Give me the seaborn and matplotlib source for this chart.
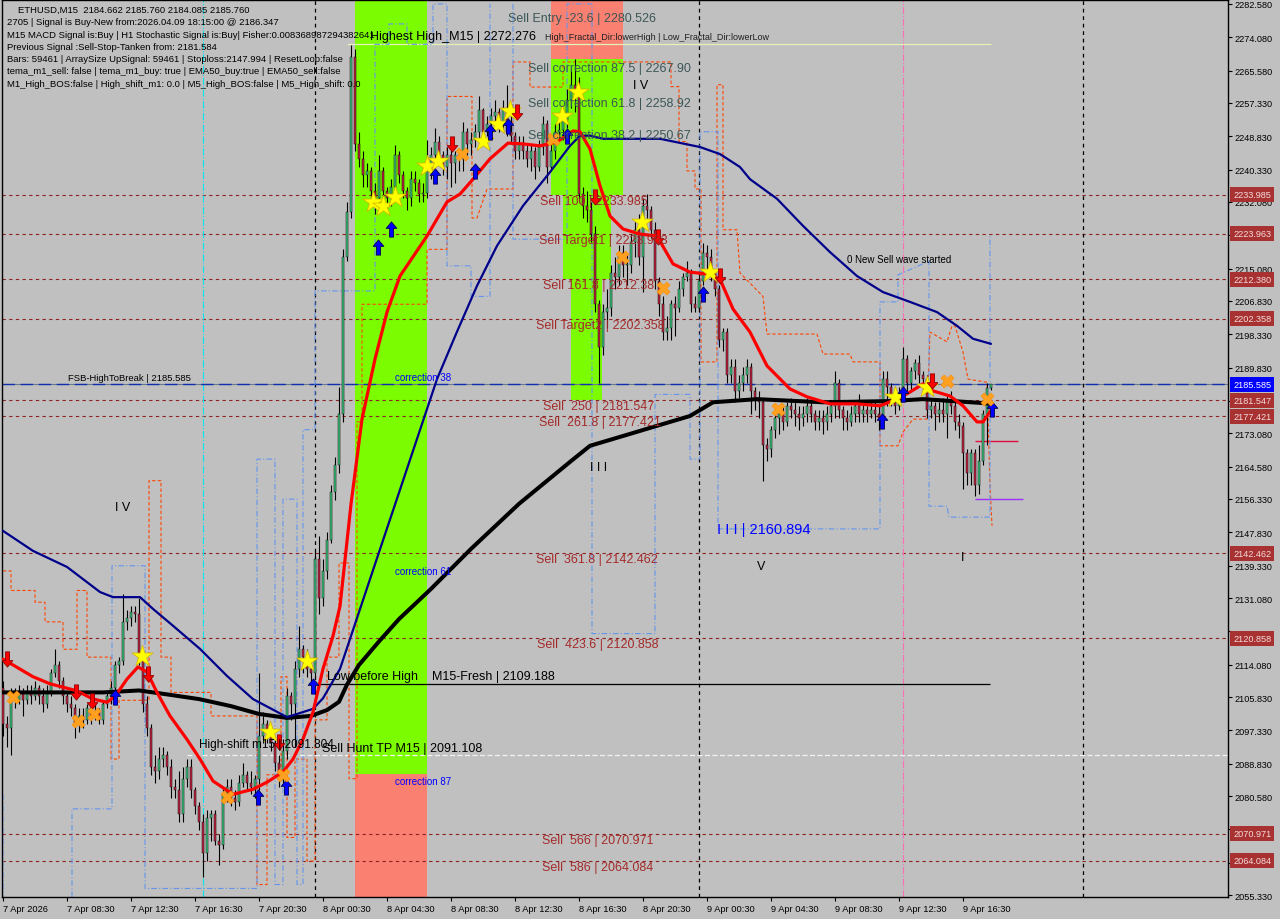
import numpy as np
import pandas as pd
import matplotlib
matplotlib.use("Agg")
import matplotlib.pyplot as plt
import matplotlib.transforms as mtransforms
from matplotlib.path import Path
import seaborn as sns

# ------------------------------------------------------------------ data
time_labels = ["7 Apr 2026", "7 Apr 08:30", "7 Apr 12:30", "7 Apr 16:30", "7 Apr 20:30",
               "8 Apr 00:30", "8 Apr 04:30", "8 Apr 08:30", "8 Apr 12:30", "8 Apr 16:30",
               "8 Apr 20:30", "9 Apr 00:30", "9 Apr 04:30", "9 Apr 08:30", "9 Apr 12:30",
               "9 Apr 16:30"]
time_label_bars = [0, 16, 32, 48, 64, 80, 96, 112, 128, 144, 160, 176, 192, 208, 224, 240]
day_separators = [78, 174, 270]

first_open = 2108.0
closes = [
    2099, 2098, 2106, 2105, 2107, 2105, 2107, 2106, 2108, 2106, 2104, 2107,
    2112, 2114, 2110, 2106, 2104, 2103, 2099, 2101, 2100, 2103, 2101, 2102,
    2100, 2104, 2106, 2108, 2114, 2115, 2125, 2126, 2127.5, 2127, 2116, 2104,
    2098, 2088, 2087, 2090, 2091, 2088, 2083, 2082, 2076, 2085, 2088, 2082,
    2078, 2074, 2066, 2075, 2076, 2069, 2068, 2081, 2083, 2080, 2079, 2084,
    2086, 2084, 2083, 2085, 2096, 2099, 2097, 2094, 2089, 2086, 2092, 2106,
    2104, 2113, 2118, 2116, 2113, 2112, 2141, 2131, 2138, 2146, 2158, 2165,
    2178, 2218, 2229.5, 2269, 2247, 2243, 2239, 2240, 2235, 2233, 2240, 2235,
    2233, 2236, 2244, 2239, 2235, 2233, 2238, 2237, 2234, 2234.5, 2240, 2244,
    2247.5, 2244, 2241, 2244, 2242, 2244, 2243, 2250, 2247, 2248, 2250, 2255.5,
    2250, 2252, 2254, 2255, 2252, 2256, 2250, 2249, 2245, 2247, 2245, 2243,
    2245, 2241, 2246, 2252, 2241, 2245, 2250, 2250.5, 2253, 2258, 2262, 2260,
    2234, 2231, 2230, 2224, 2206, 2195, 2204, 2205, 2214, 2213, 2219, 2216,
    2216, 2222, 2225, 2218, 2231, 2230, 2225, 2212, 2206, 2199, 2200, 2206,
    2205, 2210, 2213, 2214, 2206, 2205, 2212, 2219, 2218, 2214, 2210, 2197,
    2199, 2188, 2190, 2184, 2186, 2188, 2190, 2184, 2182, 2181, 2170, 2169,
    2174, 2177, 2178, 2176, 2180, 2179, 2178, 2177, 2178, 2180, 2178, 2176,
    2177, 2176, 2178, 2180, 2186, 2179, 2177, 2176, 2178, 2180, 2178, 2179,
    2178, 2179, 2178, 2177, 2187, 2185, 2182, 2180, 2183, 2192, 2186, 2189,
    2191, 2188, 2187, 2179, 2180, 2178, 2179, 2178, 2181, 2180, 2176, 2175,
    2168, 2163, 2168, 2160, 2166, 2178, 2184.662, 2185.76]
highs = [
    2110, 2101, 2108, 2108, 2109, 2108, 2109, 2109, 2110, 2109, 2108, 2109,
    2113, 2118, 2115, 2111, 2107, 2106, 2104, 2103, 2103, 2104, 2105, 2104,
    2103, 2105, 2107, 2110, 2115, 2116, 2132, 2128, 2129, 2129, 2131, 2117,
    2106, 2099, 2091, 2093, 2093, 2092, 2090, 2085, 2087, 2088, 2090, 2090,
    2083, 2079, 2076, 2077, 2077, 2077, 2071, 2083, 2085, 2085, 2082, 2086,
    2089, 2087, 2087, 2086, 2112, 2102, 2100, 2098, 2095, 2091, 2095, 2108,
    2107, 2115, 2124, 2119, 2118, 2115, 2143, 2147, 2141, 2148, 2160, 2167,
    2185, 2220, 2232, 2272, 2271, 2250, 2245, 2242, 2241, 2237, 2244, 2241,
    2236, 2238, 2246.6, 2245, 2240, 2236, 2240, 2240, 2238, 2237, 2248, 2246,
    2251, 2249, 2245, 2246, 2246, 2245, 2245, 2252.5, 2251, 2250, 2252, 2259,
    2256, 2254, 2256, 2258, 2256, 2258, 2262, 2254, 2250, 2249, 2249, 2247,
    2247, 2246, 2248, 2254, 2253, 2247, 2252, 2253, 2256, 2261, 2266, 2268.6,
    2264, 2236, 2235, 2232, 2226, 2207, 2206, 2210, 2216, 2218, 2221, 2221,
    2219, 2224, 2227, 2229, 2233, 2234, 2231, 2227, 2213, 2208, 2203, 2207,
    2208, 2212, 2214, 2217, 2215, 2208, 2214, 2221.5, 2221, 2220, 2215, 2211,
    2200, 2200, 2192, 2192, 2188, 2190, 2192, 2191, 2185, 2184, 2182, 2172,
    2175, 2179, 2180, 2180, 2181, 2182, 2181, 2180, 2180, 2182, 2181, 2179,
    2179, 2179, 2180, 2181, 2189, 2187, 2180, 2179, 2180, 2181, 2183, 2181,
    2180, 2181, 2181, 2180, 2189, 2189, 2186, 2183, 2185, 2195, 2193, 2190,
    2192, 2193, 2189, 2188, 2182, 2181, 2181, 2182, 2183, 2184, 2182, 2178,
    2176, 2169, 2169, 2169, 2170, 2179, 2186, 2185.76]
lows = [
    2096, 2093, 2091, 2103, 2104, 2101, 2104, 2104, 2105, 2104, 2102, 2103,
    2106, 2111, 2108, 2104, 2102, 2101, 2095.5, 2097, 2098, 2099, 2099, 2100,
    2099, 2099, 2103, 2104, 2106, 2112, 2114, 2123, 2124, 2125, 2114, 2102,
    2096, 2086, 2084, 2085, 2088, 2086, 2080, 2080, 2074, 2074, 2083, 2080,
    2076, 2072, 2060, 2064, 2069, 2068, 2063, 2067, 2079, 2078, 2077, 2078,
    2083, 2082, 2081, 2080, 2082, 2094, 2094, 2092, 2087, 2083, 2084, 2090,
    2100, 2093, 2111, 2112, 2111, 2110, 2111, 2127, 2129, 2136, 2145, 2156,
    2163, 2176, 2217, 2228, 2245, 2241, 2236, 2236, 2231, 2229, 2232, 2233,
    2230, 2231, 2235, 2237, 2233, 2230, 2231, 2235, 2232, 2232, 2233, 2238,
    2243, 2242, 2239, 2238, 2236, 2237, 2240, 2240, 2244, 2244, 2246, 2248,
    2248, 2249, 2250, 2252, 2250, 2250, 2249, 2247, 2243, 2243, 2243, 2241,
    2240, 2238, 2240, 2244, 2237, 2240, 2243, 2248, 2248, 2251, 2256, 2255,
    2232, 2228, 2227, 2222, 2204, 2186, 2193, 2200, 2203, 2210, 2211, 2213,
    2211, 2214, 2218, 2216, 2209, 2228, 2223, 2210, 2203, 2197, 2197, 2197,
    2198, 2204, 2208, 2212, 2204, 2204, 2204, 2211, 2214, 2212, 2208, 2195,
    2194, 2186, 2186, 2181, 2182, 2184, 2186, 2178, 2179, 2177, 2161, 2166,
    2167, 2172, 2173, 2174, 2175, 2177, 2175, 2174, 2175, 2176, 2176, 2174,
    2174, 2173, 2174, 2176, 2177, 2177, 2174, 2174, 2175, 2176, 2176, 2176,
    2176, 2177, 2176, 2174, 2176, 2180, 2180, 2178, 2179, 2182, 2184, 2184,
    2187, 2186, 2184, 2177, 2177, 2174, 2176, 2176, 2172, 2178, 2174, 2172,
    2159, 2160, 2160, 2157, 2157.5, 2165, 2170, 2184.085]

# moving averages (bar, price)
ema_fast = [(0, 2115.5), (7.5, 2111), (11.75, 2109.2), (18.5, 2107.4), (22.5, 2105.3), (26, 2104.5),
            (28, 2106), (31, 2110.4), (33.75, 2113.5), (36, 2112.2), (38.5, 2107), (41.75, 2101),
            (46, 2095), (49.25, 2090), (52.5, 2084.4), (57.5, 2081), (62.5, 2082.3), (66, 2084.1),
            (70, 2086.7), (72.5, 2090), (75, 2095.1), (77.5, 2102), (80, 2113), (82.5, 2121.4),
            (84.25, 2129), (87, 2155), (89.75, 2176.7), (93, 2192), (96, 2204), (99.25, 2213.2),
            (106, 2223.4), (111, 2232.1), (114.25, 2234.1), (117.5, 2237.9), (121.75, 2243.1),
            (126.25, 2247.1), (130, 2246.9), (134.25, 2246.4), (138.5, 2247.4), (142.5, 2250.2),
            (144.25, 2250), (146.75, 2245.6), (149.25, 2236.2), (151.75, 2228.5), (155, 2225.2),
            (159.25, 2223.9), (163.5, 2223.4), (167.5, 2216.3), (171.75, 2214.2), (176, 2213.7),
            (179.25, 2212.4), (182.5, 2204.8), (186.75, 2198.9), (191, 2190.3), (196.75, 2184.4),
            (201, 2182.4), (206.75, 2180.6), (213.5, 2180.6), (219.25, 2180.1), (223.5, 2181.8),
            (226.75, 2183.6), (230, 2185.7), (232.5, 2183.9), (236.75, 2182.6), (240, 2180.1),
            (243.5, 2176), (245, 2176), (247.25, 2179.3)]
ema_mid = [(0, 2148.2), (7.5, 2143.1), (16, 2139), (24.25, 2132.6), (27.5, 2131.3), (34.25, 2131.3),
           (37.5, 2128.3), (42.5, 2124), (49.25, 2118.1), (56, 2111.2), (62.5, 2105.3), (71, 2100.7),
           (77.5, 2102.8), (80, 2105.5), (84.25, 2113), (94.25, 2143.5), (99.25, 2158.7),
           (108.5, 2186.9), (113.5, 2199), (118.5, 2210.7), (123.5, 2220.9), (130, 2231.1),
           (136.75, 2239.7), (141.75, 2246.4), (144.25, 2249), (146.75, 2249), (150, 2248.2),
           (154.25, 2248.2), (164.25, 2248.2), (174.25, 2246.1), (179.25, 2244.3), (184.25, 2241),
           (186.75, 2237.9), (193.5, 2232.9), (200, 2226), (206.75, 2219.3), (213.5, 2213.2),
           (220, 2209.1), (226.75, 2206.6), (233.5, 2204), (238.5, 2200.5), (242.5, 2197.2),
           (247, 2195.9)]
ema_slow = [(0, 2107), (25, 2107), (34, 2107.5), (41, 2106.5), (49, 2105.3), (57, 2103.5),
            (64, 2101.5), (71, 2100.5), (77, 2101), (81, 2102.5), (84, 2104.6), (86, 2109),
            (89, 2114), (94, 2120), (99, 2125.7), (107, 2133.4), (117, 2143.6), (129, 2155.1),
            (142, 2166), (146.75, 2169.9), (155, 2172.4), (163.5, 2175), (171.75, 2177.5),
            (177.5, 2181), (188.5, 2181.8), (205, 2181), (221.75, 2181.3), (230, 2181.8),
            (245, 2180.8), (247, 2180.6)]

# channel step lines (bar, price); None breaks a line
orange_env = [(0, 2138), (2, 2138), (2, 2133), (8, 2133), (8, 2130), (10.5, 2130), (10.5, 2125),
              (15, 2125), (15, 2118), (18.5, 2118), (18.5, 2133), (21, 2133), (21, 2116), (27, 2116),
              (27, 2090), (29, 2090), (29, 2105), (36.5, 2105), (36.5, 2161), (39.5, 2161),
              (39.5, 2116), (42, 2116), (42, 2107), (52, 2107), (52, 2101), (63.5, 2101),
              (63.5, 2058), (66, 2058), (66, 2086), (69.5, 2086), (69.5, 2111), (71, 2111),
              (71, 2070), (73, 2070), (73, 2090), (76, 2090), (76, 2064), (78, 2064), (78, 2100),
              (81, 2100), (81, 2116), (84, 2116), (84, 2140), (86.5, 2140), (86.5, 2085),
              (88.5, 2085), (88.5, 2176), (89.75, 2176), (89.75, 2206), (106, 2206), (106, 2220),
              (111, 2220), (111, 2259), (117.25, 2259), (117.25, 2228), (118.5, 2228),
              (121, 2235.4), (127.5, 2235.4), (127.5, 2267.8), (131.75, 2267.8), (131.75, 2261.4),
              (140, 2261.4), (140, 2267.8), (167, 2267.8), (167, 2261.5), (169, 2261.5),
              (169, 2247.5), (171, 2247.5), (171, 2240), (173, 2240), (173, 2235.4),
              (174.5, 2235.4), (174.5, 2191.3), (178.5, 2191.3), (178.5, 2262), (180, 2262),
              (180, 2225), (183.5, 2225), (184.25, 2214), (190, 2208), (191, 2198.4),
              (203.5, 2198.4), (205, 2193.3), (211.75, 2193.3), (212.5, 2191.3), (219.25, 2191.3),
              (219.25, 2169.9), (223.75, 2169.9), (225, 2173.4), (227.5, 2176.7), (231, 2176.7),
              (231.75, 2198.9), (236, 2196.4), (237.25, 2200.5), (238, 2200.5), (240, 2193.8),
              (241.25, 2186.9), (246, 2186.1), (246.75, 2159.7), (247.25, 2149.5)]
blue_env = [(0, 2081), (0, 2054.8), None,
            (17.25, 2054.8), (17.25, 2077.3), (27.25, 2077.3), (27.25, 2139.3), (35.5, 2139.3),
            (35.5, 2057), (63.5, 2057), (63.5, 2166.5), (68, 2166.5), (68, 2058), (70, 2058),
            (70, 2156.3), (73.5, 2156.3), (73.5, 2058), (75, 2058), (75, 2174), (78, 2174),
            (78, 2209.4), (93, 2209.4), (93, 2272.3), (96.5, 2272.3), (96.5, 2277.5),
            (101, 2277.5), (101, 2272.3), (107.5, 2272.3), (107.5, 2282.6), (111, 2282.6),
            (111, 2215.8), (117, 2215.8), (117, 2208), (121.75, 2208), (121.75, 2282.6), None,
            (127.5, 2282.6), (127.5, 2222.6), (141, 2222.6), (141, 2282.6), (147.25, 2282.6),
            (147.25, 2122), (163, 2122), (163, 2183), (171.75, 2183), (171.75, 2166.5),
            (174.25, 2166.5), (174.25, 2250), (178.75, 2250), (178.75, 2148.7), (219.25, 2148.7),
            (219.25, 2206.6), (223.75, 2206.6), (223.75, 2213.5), (231.5, 2217), (231.5, 2154.5),
            (236, 2154.5), (236.5, 2151.7), (246.75, 2151.7), (246.75, 2223.5)]

# signal markers (bar, price)
stars = [(34.75, 2116.3), (66.75, 2096.9), (76, 2115.0), (92.5, 2232.1), (95, 2231.1), (98, 2233.4),
         (106, 2241.3), (108.75, 2242.5), (120, 2247.6), (123.75, 2252), (126.75, 2255.3),
         (139.75, 2254), (143.75, 2260.1), (159.75, 2227), (176.75, 2214.2), (223, 2182.4),
         (231, 2184.9)]
buy_arrows = [(28, 2105.8), (63.75, 2080.3), (70.75, 2082.9), (77.5, 2108.6), (93.75, 2220.6),
              (97, 2225.2), (108, 2238.7), (118, 2240), (121.75, 2250), (126.25, 2251.5),
              (141, 2249), (175, 2208.6), (219.75, 2176.2), (225, 2183.1), (247.25, 2179.3)]
sell_arrows = [(1, 2115.5), (18.25, 2107.1), (22.25, 2104.8), (36.25, 2111.7), (69, 2094.4),
               (112.25, 2246.9), (128.5, 2255.1), (148, 2233.4), (163.75, 2223.2), (179.25, 2213.2),
               (232.25, 2186.4)]
crosses = [(2.5, 2105.8), (18.75, 2099.7), (22.75, 2101.5), (56, 2080.3), (70, 2085.9),
           (114.75, 2244.3), (137.5, 2248.2), (154.75, 2218.1), (165, 2210.2), (193.75, 2179.3),
           (236, 2186.4), (246, 2181.8)]

# Fibonacci sell levels
sell_levels = [2233.985, 2223.963, 2212.380, 2202.358, 2181.547, 2177.421,
               2142.462, 2120.858, 2070.971, 2064.084]
sell_level_text = [("Sell Entry -23.6 | 2280.526", 126.25, 2280.526, "slate"),
                   ("Sell correction 87.5 | 2267.90", 131.25, 2267.90, "slate"),
                   ("Sell correction 61.8 | 2258.92", 131.25, 2258.92, "slate"),
                   ("Sell correction 38.2 | 2250.67", 131.25, 2250.67, "slate"),
                   ("Sell 100 | 2233.985", 134.25, 2233.985, "brown"),
                   ("Sell Target1 | 2223.963", 134.0, 2223.963, "brown"),
                   ("Sell 161.8 | 2212.38", 135.0, 2212.380, "brown"),
                   ("Sell Target2 | 2202.358", 133.25, 2202.358, "brown"),
                   ("Sell  250 | 2181.547", 135.0, 2181.547, "brown"),
                   ("Sell  261.8 | 2177.421", 134.0, 2177.421, "brown"),
                   ("Sell  361.8 | 2142.462", 133.25, 2142.462, "brown"),
                   ("Sell  423.6 | 2120.858", 133.5, 2120.858, "brown"),
                   ("Sell  566 | 2070.971", 134.75, 2070.971, "brown"),
                   ("Sell  586 | 2064.084", 134.75, 2064.084, "brown")]
fsb_level = 2185.585
low_before_high = 2109.188
hunt_tp = 2091.108
high_shift = 2091.804
highest_high = 2272.276
box_red_levels = [2233.985, 2223.963, 2212.380, 2202.358, 2181.547, 2177.421,
                  2142.462, 2120.858, 2070.971, 2064.084]
price_ticks = [2282.58, 2274.08, 2265.58, 2257.33, 2248.83, 2240.33, 2232.08, 2223.58, 2215.08,
               2206.83, 2198.33, 2189.83, 2181.33, 2173.08, 2164.58, 2156.33, 2147.83, 2139.33,
               2131.08, 2122.58, 2114.08, 2105.83, 2097.33, 2088.83, 2080.58, 2072.08, 2063.58,
               2055.33]
info_lines = ["ETHUSD,M15  2184.662 2185.760 2184.085 2185.760",
              "2705 | Signal is Buy-New from:2026.04.09 18:15:00 @ 2186.347",
              "M15 MACD Signal is:Buy | H1 Stochastic Signal is:Buy| Fisher:0.008368987294382641",
              "Previous Signal :Sell-Stop-Tanken from: 2181.584",
              "Bars: 59461 | ArraySize UpSignal: 59461 | Stoploss:2147.994 | ResetLoop:false",
              "tema_m1_sell: false | tema_m1_buy: true | EMA50_buy:true | EMA50_sell:false",
              "M1_High_BOS:false | High_shift_m1: 0.0 | M5_High_BOS:false | M5_High_shift: 0.0"]

# ------------------------------------------------------------------ style
BG = "#C0C0C0"
sns.set_theme(style="white", rc={"axes.facecolor": BG, "figure.facecolor": BG,
                                 "axes.edgecolor": "black"})
plt.rcParams["font.family"] = ["Liberation Sans", "DejaVu Sans"]

fig = plt.figure(figsize=(12.8, 9.2), dpi=100)
ax = fig.add_axes([2 / 1280, 22 / 920, 1226 / 1280, 897 / 920])
ax.set_facecolor(BG)
ax.set_xlim(-0.25, 306.25)
ax.set_ylim(2054.82, 2283.6)

YTOP = 2283.6
YBOT = 2054.82

# coloured zones
ax.fill_between([88, 106], 2086.2, YTOP, color="#7CFC00", lw=0, zorder=0.5)
ax.fill_between([88, 106], YBOT, 2086.2, color="#FA8072", lw=0, zorder=0.5)
ax.fill_between([137, 155], 2268.6, YTOP, color="#FA8072", lw=0, zorder=0.5)
ax.fill_between([137, 155], 2233.985, 2268.6, color="#7CFC00", lw=0, zorder=0.5)
ax.fill_between([140, 152], 2212.38, 2233.985, color="#7CFC00", lw=0, zorder=0.5)
ax.fill_between([142, 149.75], 2181.547, 2212.38, color="#7CFC00", lw=0, zorder=0.5)

# horizontal levels
for lv in sell_levels:
    ax.axhline(lv, color="#8B2323", lw=0.8, ls=(0, (3, 3)), zorder=1)
ax.axhline(fsb_level, color="#6A7A8A", lw=0.8, zorder=1)
ax.axhline(fsb_level, color="#1030B0", lw=1.0, ls=(0, (9, 4)), zorder=1.1)
ax.hlines(low_before_high, 79.25, 246.75, color="black", lw=0.9, zorder=1.2)
ax.hlines(hunt_tp, 46, 306.25, color="#F4F4F4", lw=0.9, ls=(0, (4, 2)), zorder=1.2)
ax.hlines(highest_high, 86, 247, color="#E2F2B8", lw=0.9, zorder=1.2)
ax.hlines(2171.1, 243, 253.75, color="#E0103C", lw=1.0, zorder=1.2)
ax.hlines(2156.3, 243, 255, color="#9B30FF", lw=1.0, zorder=1.2)

# vertical lines
for b in day_separators:
    ax.axvline(b, color="black", lw=0.9, ls=(0, (3, 3)), zorder=1)
ax.axvline(50, color="#00E5EE", lw=0.8, ls="-.", zorder=1)
ax.axvline(225, color="#FF6EB4", lw=0.8, ls="-.", zorder=1)


def split_path(pts):
    xs, ys = [], []
    for p in pts:
        if p is None:
            xs.append(np.nan); ys.append(np.nan)
        else:
            xs.append(p[0]); ys.append(p[1])
    return xs, ys


ox, oy = split_path(orange_env)
ax.plot(ox, oy, color="#FF4500", lw=0.8, ls=(0, (3, 2)), zorder=2)
bx, by = split_path(blue_env)
ax.plot(bx, by, color="#6495ED", lw=0.8, ls=(0, (5, 2, 1, 2)), zorder=2)

# candles
idx = np.arange(len(closes))
c = np.array(closes, dtype=float)
o = np.concatenate([[first_open], c[:-1]])
h = np.maximum.reduce([np.array(highs, dtype=float), o, c])
l = np.minimum.reduce([np.array(lows, dtype=float), o, c])
up = c >= o
ax.vlines(idx, l, h, color="black", lw=0.8, zorder=3)
body = np.where(np.abs(c - o) < 0.35, 0.35, c - o)
ax.bar(idx, body, bottom=o, width=0.74, color=np.where(up, "#3CC47C", "#C0203E"),
       edgecolor="#101010", linewidth=0.35, zorder=3.1)

# moving averages
for pts, col, lw in [(ema_slow, "black", 2.9), (ema_mid, "#00008B", 1.6), (ema_fast, "#FF0000", 2.3)]:
    df = pd.DataFrame(pts, columns=["bar", "price"])
    sns.lineplot(data=df, x="bar", y="price", ax=ax, color=col, lw=lw, sort=False,
                 estimator=None, legend=False, zorder=5)

# markers
up_arrow = Path([(0, 1), (-0.7, 0.15), (-0.27, 0.15), (-0.27, -1), (0.27, -1), (0.27, 0.15),
                 (0.7, 0.15), (0, 1)],
                [Path.MOVETO] + [Path.LINETO] * 6 + [Path.CLOSEPOLY])
dn_arrow = Path([(0, -1), (-0.7, -0.15), (-0.27, -0.15), (-0.27, 1), (0.27, 1), (0.27, -0.15),
                 (0.7, -0.15), (0, -1)],
                [Path.MOVETO] + [Path.LINETO] * 6 + [Path.CLOSEPOLY])
sdf = pd.DataFrame(stars, columns=["bar", "price"])
sns.scatterplot(data=sdf, x="bar", y="price", ax=ax, marker="*", s=260, color="#FFFF00",
                edgecolor="#D4B000", linewidth=0.5, zorder=6, legend=False)
adf = pd.DataFrame(buy_arrows, columns=["bar", "price"])
sns.scatterplot(data=adf, x="bar", y="price", ax=ax, marker=up_arrow, s=120, color="#0000FF",
                edgecolor="#000050", linewidth=0.6, zorder=6, legend=False)
ddf = pd.DataFrame(sell_arrows, columns=["bar", "price"])
sns.scatterplot(data=ddf, x="bar", y="price", ax=ax, marker=dn_arrow, s=120, color="#FF0000",
                edgecolor="#900000", linewidth=0.6, zorder=6, legend=False)
xdf = pd.DataFrame(crosses, columns=["bar", "price"])
sns.scatterplot(data=xdf, x="bar", y="price", ax=ax, marker="X", s=90, color="#FFA020",
                edgecolor="#FF8C00", linewidth=0.4, zorder=6, legend=False)

# texts
COLS = {"slate": "#3C5656", "brown": "#A52A2A"}
for txt, b, lv, col in sell_level_text:
    ax.text(b, lv, txt, color=COLS[col], fontsize=9, va="top", ha="left", zorder=7)

ax.text(16.25, fsb_level + 0.6, "FSB-HighToBreak | 2185.585", fontsize=6.8, color="black",
        va="bottom", zorder=7)
ax.text(98, fsb_level + 0.6, "correction 38", fontsize=7, color="#0000FF", va="bottom", zorder=7)
ax.text(98, 2138.0, "correction 61", fontsize=7, color="#0000FF", va="center", zorder=7)
ax.text(98, 2084.4, "correction 87", fontsize=7, color="#0000FF", va="center", zorder=7)
ax.text(81, low_before_high + 0.5, "Low before High    M15-Fresh | 2109.188", fontsize=9,
        color="black", va="bottom", zorder=7)
ax.text(49, high_shift + 0.6, "High-shift m15 | 2091.804", fontsize=8.5, color="black",
        va="bottom", zorder=7)
ax.text(79.75, hunt_tp + 0.2, "Sell Hunt TP M15 | 2091.108", fontsize=9, color="black",
        va="bottom", zorder=7)
ax.text(91.75, highest_high + 0.6, "Highest High_M15 | 2272.276", fontsize=9, color="black",
        va="bottom", zorder=7)
ax.text(135.5, highest_high + 0.8, "High_Fractal_Dir:lowerHigh | Low_Fractal_Dir:lowerLow",
        fontsize=6.5, color="#202020", va="bottom", zorder=7)
ax.text(211, 2217.6, "0 New Sell wave started", fontsize=7, color="black", va="center", zorder=7)
ax.text(28, 2154.3, "I V", fontsize=9, color="black", va="center", zorder=7)
ax.text(157.5, 2261.8, "I V", fontsize=9, color="black", va="center", zorder=7)
ax.text(146.75, 2164.5, "I I I", fontsize=9, color="black", va="center", zorder=7)
ax.text(178.5, 2148.7, "I I I | 2160.894", fontsize=10.5, color="#0000FF", va="center", zorder=7)
ax.text(188.5, 2139.3, "V", fontsize=9, color="black", va="center", zorder=7)
ax.text(239.5, 2141.6, "I", fontsize=9, color="black", va="center", zorder=7)

for k, line in enumerate(info_lines):
    xpx = 18 if k == 0 else 7
    ypx = 10.5 + 12.3 * k
    ax.text((xpx - 2) / 1226, 1 - (ypx - 1) / 897, line, transform=ax.transAxes,
            fontsize=6.8, color="black", va="center", ha="left", zorder=8)

# axes, ticks
for s in ax.spines.values():
    s.set_color("black")
    s.set_linewidth(1.0)
ax.yaxis.tick_right()
ax.set_yticks(price_ticks)
hidden = {2223.58, 2181.33, 2122.58, 2072.08, 2063.58}   # covered by the level boxes
ax.set_yticklabels(["" if v in hidden else f"{v:.3f}" for v in price_ticks])
ax.set_xticks(time_label_bars)
ax.set_xticklabels(time_labels)
for lbl in ax.get_xticklabels():
    lbl.set_ha("left")
ax.tick_params(axis="y", right=True, left=False, direction="out", length=3, width=0.8,
               pad=2, labelsize=6.6, colors="black")
ax.tick_params(axis="x", bottom=True, direction="out", length=3, width=0.8, pad=2,
               labelsize=6.7, colors="black")
ax.set_xlabel("")
ax.set_ylabel("")
ax.grid(False)

trans = mtransforms.blended_transform_factory(ax.transAxes, ax.transData)
for lv in box_red_levels:
    ax.text(1.0 + 5 / 1226, lv, f"{lv:.3f}", transform=trans, fontsize=6.6, color="#F4DCDC",
            va="center", ha="left", clip_on=False, zorder=20,
            bbox=dict(boxstyle="square,pad=0.32", fc="#A83232", ec="none"))
ax.text(1.0 + 5 / 1226, fsb_level, f"{fsb_level:.3f}", transform=trans, fontsize=6.6,
        color="white", va="center", ha="left", clip_on=False, zorder=20,
        bbox=dict(boxstyle="square,pad=0.32", fc="#0000FF", ec="none"))

fig.savefig("out.png", dpi=100, facecolor=BG)
